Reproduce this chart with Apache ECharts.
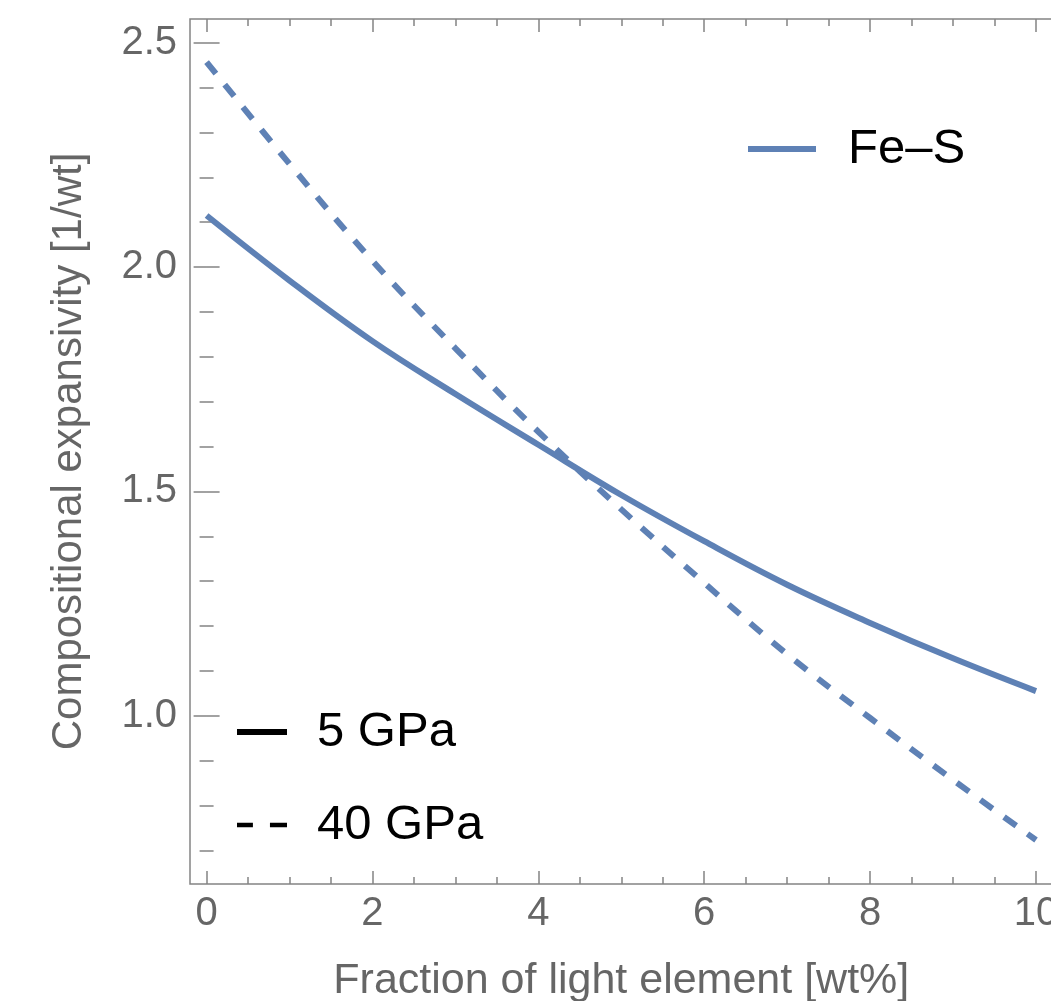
<!DOCTYPE html>
<html>
<head>
<meta charset="utf-8">
<title>Compositional expansivity of Fe–S</title>
<script src="https://cdn.jsdelivr.net/npm/echarts@6/dist/echarts.min.js"></script>
<style>
  html, body { margin: 0; padding: 0; background: #fff; }
  #chart { width: 1051px; height: 1001px; }
</style>
</head>
<body>
<div id="chart"></div>
<script>
// Light-element fraction (wt%)
const lightFraction = [0, 1, 2, 3, 4, 5, 6, 7, 8, 9, 10];
// Compositional expansivity of Fe–S at 5 GPa
const expansivity5GPa = [2.115, 1.970, 1.835, 1.717, 1.604, 1.492, 1.389, 1.292, 1.207, 1.128, 1.055];
// Compositional expansivity of Fe–S at 40 GPa
const expansivity40GPa = [2.457, 2.230, 2.014, 1.819, 1.633, 1.460, 1.296, 1.137, 0.995, 0.857, 0.723];

// Tick positions
const xMajorTicks = [0, 2, 4, 6, 8, 10];
const xMinorTicks = [0.5, 1, 1.5, 2.5, 3, 3.5, 4.5, 5, 5.5, 6.5, 7, 7.5, 8.5, 9, 9.5];
const yMajorTicks = [1.0, 1.5, 2.0, 2.5];
const yMinorTicks = [0.7, 0.8, 0.9, 1.1, 1.2, 1.3, 1.4, 1.6, 1.7, 1.8, 1.9, 2.1, 2.2, 2.3, 2.4];

const X_MIN = -0.2, X_MAX = 10.2;
const Y_MIN = 0.625, Y_MAX = 2.553;

const BLUE = '#5E81B5';
const FRAME = '#848484';
const LABEL = '#666666';
const FONT = '"Liberation Sans", Arial, Helvetica, sans-serif';

function pairs(xs, ys) { return xs.map((x, i) => [x, ys[i]]); }

// An axis used only to draw one set of inward ticks on one side of the frame
function tickAxis(range, pos, ticks, len, extra) {
  return Object.assign({
    type: 'value',
    position: pos,
    min: range[0], max: range[1],
    axisLine: { show: false },
    splitLine: { show: false },
    axisTick: {
      show: true, inside: true, length: len, customValues: ticks,
      lineStyle: { color: FRAME, width: 1.5 }
    },
    axisLabel: { show: false }
  }, extra || {});
}

const chart = echarts.init(document.getElementById('chart'), null, { renderer: 'canvas' });

const option = {
  animation: false,
  backgroundColor: '#ffffff',
  grid: {
    left: 190, top: 19, right: -1.6, bottom: 117,
    show: true, borderColor: FRAME, borderWidth: 1.5,
    backgroundColor: 'transparent',
    containLabel: false,
    outerBoundsMode: 'none'
  },
  xAxis: [
    tickAxis([X_MIN, X_MAX], 'bottom', xMajorTicks, 13, {
      axisLabel: {
        show: true, customValues: xMajorTicks, margin: 10,
        fontSize: 40, color: LABEL, fontFamily: FONT,
        formatter: v => String(v)
      },
      name: 'Fraction of light element [wt%]',
      nameLocation: 'middle', nameGap: 76,
      nameTextStyle: { fontSize: 43, color: LABEL, fontFamily: FONT }
    }),
    tickAxis([X_MIN, X_MAX], 'bottom', xMinorTicks, 7),
    tickAxis([X_MIN, X_MAX], 'top', xMajorTicks, 13),
    tickAxis([X_MIN, X_MAX], 'top', xMinorTicks, 7)
  ],
  yAxis: [
    tickAxis([Y_MIN, Y_MAX], 'left', yMajorTicks, 13, {
      axisLabel: {
        show: true, customValues: yMajorTicks, margin: 13,
        fontSize: 40, color: LABEL, fontFamily: FONT,
        formatter: v => Number(v).toFixed(1)
      },
      name: 'Compositional expansivity [1/wt]',
      nameLocation: 'middle', nameGap: 100,
      nameTextStyle: { fontSize: 42, color: LABEL, fontFamily: FONT }
    }),
    tickAxis([Y_MIN, Y_MAX], 'left', yMinorTicks, 7),
    tickAxis([Y_MIN, Y_MAX], 'right', yMajorTicks, 13),
    tickAxis([Y_MIN, Y_MAX], 'right', yMinorTicks, 7)
  ],
  legend: [
    {
      data: ['Fe–S'],
      left: 748, top: 124, padding: 0,
      icon: 'rect', itemWidth: 68, itemHeight: 6,
      itemStyle: { borderWidth: 0 },
      selectedMode: false,
      textStyle: { fontSize: 49, color: '#000', fontFamily: FONT, lineHeight: 50, padding: [0, 0, 0, 27] }
    },
    {
      data: [
        { name: '5 GPa', icon: 'rect' },
        { name: '40 GPa', icon: 'path://M0,0h14v4h-14zM29,0h15v4h-15z' }
      ],
      orient: 'vertical',
      left: 237, top: 707, padding: 0,
      itemWidth: 50, itemHeight: 6, itemGap: 43,
      itemStyle: { borderWidth: 0 },
      selectedMode: false,
      textStyle: { fontSize: 49, color: '#000', fontFamily: FONT, lineHeight: 50, padding: [0, 0, 0, 25] }
    }
  ],
  series: [
    {
      name: 'Fe–S', type: 'line', xAxisIndex: 0, yAxisIndex: 0,
      data: pairs(lightFraction, expansivity5GPa),
      smooth: 0.4, showSymbol: false, symbol: 'none', color: BLUE,
      lineStyle: { width: 6, color: BLUE, cap: 'butt' }
    },
    {
      name: 'Fe–S', type: 'line', xAxisIndex: 0, yAxisIndex: 0,
      data: pairs(lightFraction, expansivity40GPa),
      smooth: 0.4, showSymbol: false, symbol: 'none', color: BLUE,
      lineStyle: { width: 6, color: BLUE, type: [15, 14], cap: 'butt' }
    },
    {
      name: '5 GPa', type: 'line', data: [], color: '#000',
      lineStyle: { color: '#000', width: 6 }
    },
    {
      name: '40 GPa', type: 'line', data: [], color: '#000',
      lineStyle: { color: '#000', width: 6, type: [15, 14] }
    }
  ]
};

chart.setOption(option);
</script>
</body>
</html>
